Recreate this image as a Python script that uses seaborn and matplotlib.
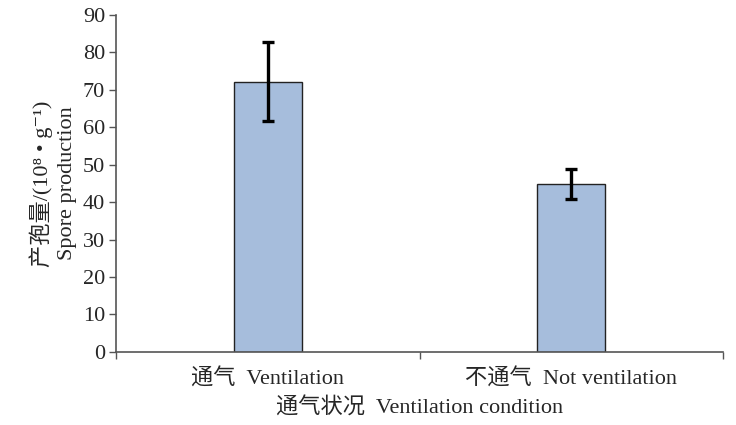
import numpy as np
import pandas as pd
import seaborn as sns
import matplotlib.pyplot as plt
from matplotlib.ticker import FixedLocator

sns.set_style("white")
plt.rcParams['font.family'] = ['Liberation Serif', 'Noto Sans CJK SC', 'DejaVu Serif']

conditions = ['通气  Ventilation', '不通气  Not ventilation']
spore = [72.2, 44.8]
err = [10.5, 4.0]

df = pd.DataFrame({'cond': conditions, 'spore': spore, 'err': err})

fig, ax = plt.subplots(figsize=(7.36, 4.25), dpi=100)
fig.subplots_adjust(left=0.158, right=0.982, bottom=0.172, top=0.965)

sns.barplot(data=df, x='cond', y='spore', color='#a6bddc', saturation=1,
            width=0.225, edgecolor='#222222', linewidth=1.0, errorbar=None, ax=ax)
ax.errorbar(x=np.arange(len(df)), y=df['spore'], yerr=df['err'], fmt='none',
            ecolor='black', elinewidth=2.4, capsize=4.5, capthick=2.4, zorder=5)

ax.set_xlim(-0.5, len(df) - 0.5)
ax.set_ylim(0, 90)
ax.set_yticks(range(0, 91, 10))
ax.xaxis.set_minor_locator(FixedLocator(np.arange(-0.5, len(df), 1.0)))
ax.tick_params(axis='x', which='major', length=0, labelsize=16, pad=12)
ax.tick_params(axis='x', which='minor', length=5, width=1, color='#555555', bottom=True, direction='out')
ax.tick_params(axis='y', length=5, width=1, color='#555555', left=True, direction='out', labelsize=16, pad=3)

for s in ['top', 'right']:
    ax.spines[s].set_visible(False)
for s in ['left', 'bottom']:
    ax.spines[s].set_color('#555555')
    ax.spines[s].set_linewidth(1.2)

ax.set_xlabel('通气状况  Ventilation condition', fontsize=16, labelpad=6)
ax.set_ylabel('产孢量/(10⁸ • g⁻¹)\nSpore production', fontsize=16, labelpad=4,
              linespacing=1.4)

fig.savefig('out.png', dpi=100)
